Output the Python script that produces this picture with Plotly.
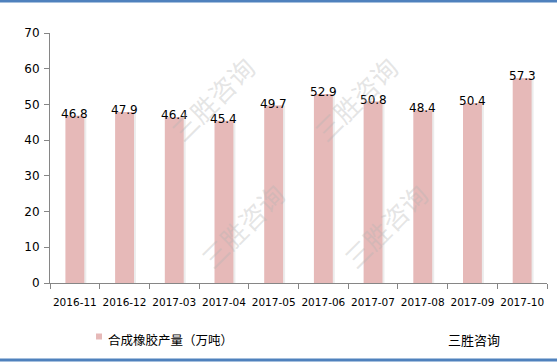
import plotly.graph_objects as go

categories = ["2016-11", "2016-12", "2017-03", "2017-04", "2017-05",
              "2017-06", "2017-07", "2017-08", "2017-09", "2017-10"]
values = [46.8, 47.9, 46.4, 45.4, 49.7, 52.9, 50.8, 48.4, 50.4, 57.3]
y_ticks = [0, 10, 20, 30, 40, 50, 60, 70]
series_name = "合成橡胶产量（万吨）"
brand = "三胜咨询"

BAR = "#e6b9b8"
FONT = "DejaVu Sans, Verdana, sans-serif"
CJK = "Noto Sans CJK SC, sans-serif"

fig = go.Figure()
# soft shadow behind bars
fig.add_trace(go.Bar(x=categories, y=values, width=0.38, offset=-0.15,
                     marker=dict(color="rgba(200,200,200,0.35)", line=dict(width=0)),
                     hoverinfo="skip", showlegend=False))
fig.add_trace(go.Bar(x=categories, y=values, width=0.38, offset=-0.19,
                     marker=dict(color=BAR, line=dict(width=0)),
                     name=series_name, showlegend=False))

annotations = []
for c, v in zip(categories, values):
    annotations.append(dict(x=c, y=v, text=f"{v:.1f}", showarrow=False,
                            xanchor="center", yanchor="middle", yshift=2,
                            font=dict(family=FONT, size=12, color="#000000")))

# watermarks
for (xp, yp) in [(0.22, 0.95), (0.72, 0.95), (0.28, 0.02), (0.78, 0.02)]:
    annotations.append(dict(xref="paper", yref="paper", x=xp, y=yp, text=brand,
                            showarrow=False, textangle=-45,
                            font=dict(family=CJK, size=26, color="rgba(180,180,180,0.35)")))

annotations.append(dict(xref="paper", yref="paper", x=(106 - 50) / 497, y=(283 - 339) / 250,
                        text=series_name, showarrow=False, xanchor="left", yanchor="middle",
                        font=dict(family=CJK, size=12.5, color="#000000")))
annotations.append(dict(xref="paper", yref="paper", x=(446 - 50) / 497, y=(283 - 339) / 250,
                        text=brand, showarrow=False, xanchor="left", yanchor="middle",
                        font=dict(family=CJK, size=13, color="#000000")))

shapes = [
    dict(type="rect", xref="paper", yref="paper",
         x0=(96 - 50) / 497, x1=(102 - 50) / 497,
         y0=(283 - 339.5) / 250, y1=(283 - 333.5) / 250,
         fillcolor=BAR, line=dict(width=0)),
    dict(type="line", xref="paper", yref="paper", x0=-0.2, x1=1.1,
         y0=(283 - 1) / 250, y1=(283 - 1) / 250,
         line=dict(color="#4f81bd", width=3)),
    dict(type="line", xref="paper", yref="paper", x0=-0.2, x1=1.1,
         y0=(283 - 360) / 250, y1=(283 - 360) / 250,
         line=dict(color="#4f81bd", width=3)),
]

fig.update_layout(
    width=557, height=363,
    margin=dict(l=50, r=10, t=33, b=80, autoexpand=False),
    paper_bgcolor="white", plot_bgcolor="white",
    barmode="overlay",
    annotations=annotations, shapes=shapes,
    xaxis=dict(type="category", showline=True, linecolor="#868686", linewidth=1,
               ticks="outside", tickson="boundaries", ticklen=5, tickcolor="#868686",
               tickangle=0, automargin=False, ticklabelstandoff=9,
               tickfont=dict(family=FONT, size=10.5, color="#000000"),
               showgrid=False, range=[-0.5, 9.5]),
    yaxis=dict(range=[0, 70], tickvals=y_ticks, showline=True, linecolor="#868686",
               linewidth=1, ticks="outside", ticklen=5, tickcolor="#868686",
               automargin=False, ticklabelstandoff=2,
               tickfont=dict(family=FONT, size=12, color="#000000"),
               showgrid=False, zeroline=False),
)

fig.write_html("out.html", config={"displayModeBar": False},
               post_script="document.body.style.margin='0px';document.body.style.overflow='hidden';")
